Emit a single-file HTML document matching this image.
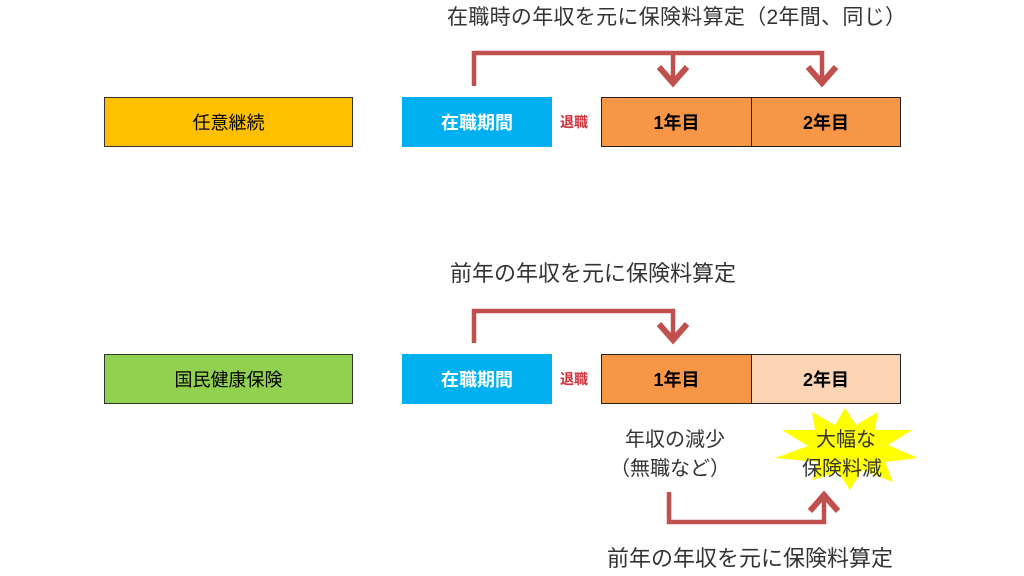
<!DOCTYPE html>
<html><head><meta charset="utf-8"><style>
body{margin:0;width:1024px;height:576px;background:#fff;font-family:"Liberation Sans","Noto Sans CJK JP",sans-serif;position:relative;overflow:hidden}
.b{position:absolute;box-sizing:border-box;display:flex;align-items:center;justify-content:center;font-size:18px}
.t{position:absolute;font-size:21px;color:#333;white-space:nowrap}
</style></head><body>
<div class="t" style="left:447px;top:1px;font-size:21px;letter-spacing:0.3px">在職時の年収を元に保険料算定（2年間、同じ）</div>
<div class="b" style="left:104px;top:97px;width:249px;height:50px;background:#FFC000;border:1px solid #333">任意継続</div>
<div class="b" style="left:402px;top:97px;width:150px;height:50px;background:#00B0F0;color:#fff;font-weight:bold">在職期間</div>
<div class="t" style="left:560px;top:112px;font-size:14px;color:#d0303a;font-weight:bold">退職</div>
<div class="b" style="left:601px;top:97px;width:151px;height:50px;background:#F79646;border:1px solid #222;font-weight:bold">1年目</div>
<div class="b" style="left:751px;top:97px;width:150px;height:50px;background:#F79646;border:1px solid #222;font-weight:bold">2年目</div>

<div class="t" style="left:450px;top:256px;font-size:22px">前年の年収を元に保険料算定</div>
<div class="b" style="left:104px;top:354px;width:249px;height:50px;background:#92D050;border:1px solid #333">国民健康保険</div>
<div class="b" style="left:402px;top:354px;width:150px;height:50px;background:#00B0F0;color:#fff;font-weight:bold">在職期間</div>
<div class="t" style="left:560px;top:369px;font-size:14px;color:#d0303a;font-weight:bold">退職</div>
<div class="b" style="left:601px;top:354px;width:151px;height:50px;background:#F79646;border:1px solid #222;font-weight:bold">1年目</div>
<div class="b" style="left:751px;top:354px;width:150px;height:50px;background:#FBD4B4;border:1px solid #222;font-weight:bold">2年目</div>

<svg style="position:absolute;left:0;top:0" width="1024" height="576">
<g stroke="#C0504D" stroke-width="4.5" fill="none">
<polyline points="474,86 474,53 822,53 822,82"/>
<line x1="673" y1="53" x2="673" y2="82"/>
<polyline points="659,67 673,83 687,67" stroke-width="6"/>
<polyline points="808,67 822,83 836,67" stroke-width="6"/>
<polyline points="474,343 474,311 673,311 673,339"/>
<polyline points="659,324 673,340 687,324" stroke-width="6"/>
<polyline points="669,492 669,522 824,522 824,496"/>
<polyline points="810,511 824,495 838,511" stroke-width="6"/>
</g>
<polygon fill="#FFFF00" points="845,408 856,425 878,412 875,430 912,430 888,445 918,458 885,462 893,482 862,470 850,490 838,472 812,480 818,462 775,458 808,446 782,430 815,430 812,412 835,425"/>
</svg>
<div class="t" style="left:625px;top:423px;font-size:20px">年収の減少</div>
<div class="t" style="left:610px;top:452px;font-size:20px">（無職など）</div>
<div class="t" style="left:816px;top:423px;font-size:20px">大幅な</div>
<div class="t" style="left:802px;top:452px;font-size:20px">保険料減</div>
<div class="t" style="left:607px;top:541px;font-size:22px">前年の年収を元に保険料算定</div>
</body></html>
